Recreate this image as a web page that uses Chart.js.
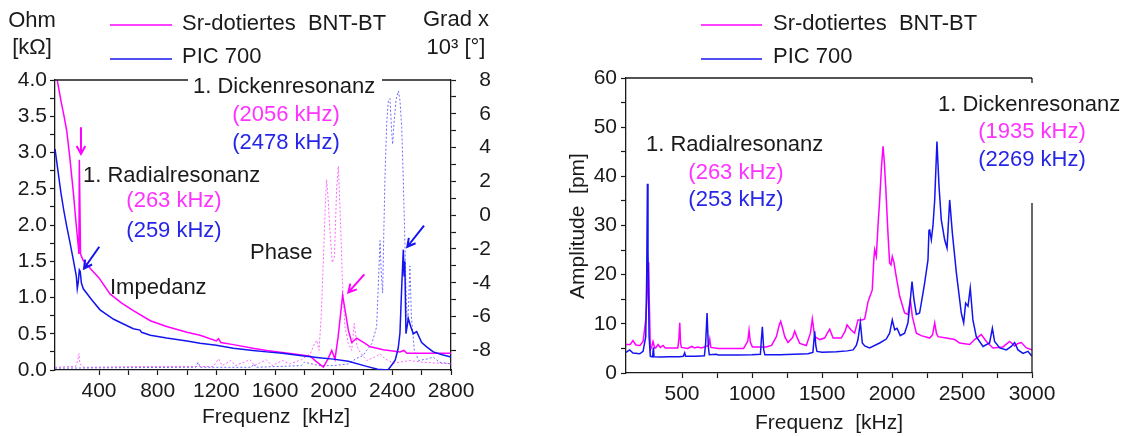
<!DOCTYPE html>
<html>
<head>
<meta charset="utf-8">
<script src="https://cdn.jsdelivr.net/npm/chart.js@4.4.1/dist/chart.umd.min.js"></script>
<style>
  body { margin: 0; background: #fff; }
  canvas { position: absolute; top: 0; }
  #impChart { left: 0; }
  #ampChart { left: 560px; }
</style>
</head>
<body>
<canvas id="impChart" width="560" height="436"></canvas>
<canvas id="ampChart" width="575" height="436"></canvas>
<script>
// ---------- left panel: impedance (kOhm) and phase (10^3 deg) ----------
const impFreqBnt = [100, 115, 140, 160, 180, 200, 225, 245, 259, 263, 266, 270, 274, 290, 320, 350, 400, 475, 550, 634, 750, 861, 1000, 1089, 1200, 1215, 1230, 1316, 1450, 1543, 1650, 1770, 1840, 1880, 1930, 1960, 1987, 2009, 2030, 2061, 2080, 2100, 2123, 2157, 2203, 2250, 2339, 2452, 2478, 2500, 2600, 2800];
const impBnt     = [4.3, 4.0, 3.72, 3.52, 3.3, 2.95, 2.45, 2.0, 1.7, 1.6, 2.9, 2.9, 1.6, 1.52, 1.45, 1.38, 1.27, 1.05, 0.93, 0.82, 0.68, 0.6, 0.52, 0.48, 0.4, 0.43, 0.38, 0.35, 0.3, 0.27, 0.24, 0.21, 0.19, 0.12, 0.04, 0.15, 0.27, 0.15, 0.45, 1.03, 0.8, 0.55, 0.38, 0.44, 0.38, 0.32, 0.28, 0.25, 0.27, 0.23, 0.23, 0.23];

const impFreqPic = [100, 120, 140, 160, 180, 200, 225, 245, 252, 258, 266, 272, 280, 293, 350, 407, 500, 634, 680, 690, 750, 861, 1000, 1089, 1200, 1316, 1450, 1543, 1650, 1770, 1900, 1997, 2100, 2225, 2300, 2370, 2400, 2420, 2440, 2452, 2465, 2475, 2480, 2485, 2493, 2509, 2525, 2543, 2566, 2600, 2634, 2679, 2740, 2800];
const impPic     = [3.05, 2.75, 2.45, 2.2, 1.98, 1.78, 1.52, 1.3, 1.12, 1.2, 1.38, 1.36, 1.2, 1.12, 0.97, 0.83, 0.7, 0.57, 0.55, 0.52, 0.48, 0.44, 0.4, 0.37, 0.34, 0.3, 0.27, 0.25, 0.23, 0.2, 0.17, 0.15, 0.12, 0.05, 0.01, 0.0, 0.08, 0.14, 0.3, 0.51, 1.2, 1.66, 1.3, 1.5, 0.5, 0.71, 0.6, 0.5, 0.53, 0.38, 0.32, 0.25, 0.21, 0.18];

const phaseFreqBnt = [100, 240, 255, 263, 270, 300, 700, 1000, 1180, 1215, 1240, 1300, 1330, 1430, 1460, 1540, 1580, 1650, 1700, 1780, 1840, 1870, 1885, 1900, 1915, 1930, 1945, 1952, 1962, 1975, 1990, 2005, 2020, 2032, 2045, 2060, 2077, 2100, 2123, 2140, 2160, 2180, 2225, 2280, 2316, 2350, 2407, 2520, 2600, 2800];
const phaseBnt     = [-9.0, -8.95, -8.6, -8.2, -8.8, -9.0, -8.95, -8.95, -8.95, -8.5, -8.9, -8.6, -8.9, -8.55, -8.9, -8.55, -8.9, -8.6, -8.8, -8.55, -8.2, -7.6, -7.4, -8.0, -6.0, -2.6, 1.0, 2.1, 1.0, -1.0, -2.8, -2.5, 1.5, 2.9, 0.0, -4.0, -6.6, -7.6, -8.0, -6.4, -7.8, -8.1, -8.6, -8.4, -8.2, -8.5, -8.75, -8.6, -8.7, -8.8];

const phaseFreqPic = [100, 1000, 1060, 1075, 1090, 1440, 1455, 1470, 1780, 1800, 1900, 2000, 2100, 2150, 2200, 2225, 2260, 2293, 2305, 2316, 2325, 2334, 2342, 2350, 2362, 2373, 2384, 2395, 2402, 2412, 2425, 2441, 2452, 2464, 2475, 2486, 2495, 2503, 2512, 2520, 2530, 2550, 2580, 2640, 2679, 2720, 2800];
const phasePic     = [-9.05, -9.0, -9.0, -8.7, -9.0, -9.0, -8.8, -9.0, -8.9, -8.7, -8.9, -8.9, -8.8, -8.5, -8.3, -8.0, -7.6, -6.6, -4.0, -1.5, -3.5, -4.6, -1.0, 2.3, 5.5, 6.8, 6.9, 5.0, 4.2, 5.5, 6.8, 7.35, 6.8, 5.2, 2.0, -1.7, -5.0, -6.6, -5.0, -3.0, -6.0, -8.0, -8.6, -8.5, -8.4, -8.7, -8.8];

// ---------- right panel: amplitude (pm) ----------
const ampFreqBnt = [100, 130, 150, 170, 200, 222, 241, 255, 262, 266, 274, 285, 293, 305, 312, 329, 345, 365, 380, 420, 470, 478, 484, 490, 496, 540, 570, 590, 610, 640, 690, 698, 706, 760, 850, 940, 970, 979, 988, 1003, 1060, 1100, 1140, 1174, 1195, 1205, 1218, 1234, 1257, 1290, 1305, 1320, 1341, 1388, 1417, 1431, 1448, 1484, 1519, 1540, 1555, 1579, 1638, 1665, 1679, 1695, 1710, 1733, 1757, 1785, 1805, 1829, 1859, 1870, 1876, 1888, 1900, 1912, 1925, 1936, 1945, 1955, 1971, 1983, 1993, 2002, 2014, 2026, 2055, 2090, 2114, 2131, 2145, 2174, 2209, 2269, 2290, 2305, 2318, 2329, 2388, 2448, 2483, 2555, 2590, 2638, 2674, 2721, 2793, 2840, 2858, 2876, 2900, 2924, 2960, 3000];
const ampBnt     = [5.8, 5.8, 6.6, 5.7, 5.6, 6.4, 10.8, 18, 22.5, 15, 4.7, 5.5, 6.4, 5.1, 5.1, 5.8, 5.2, 5.6, 5.1, 5.1, 5.1, 7, 10.2, 6, 5.2, 5.0, 5.4, 5.1, 5.3, 5.1, 5.6, 6.9, 5.2, 5.0, 5.0, 5.0, 6.5, 8.7, 6.3, 5.3, 5.3, 5.3, 5.6, 7.4, 9.8, 10.5, 9.2, 7.4, 6.2, 7.2, 8.5, 7.4, 6.0, 5.6, 8.1, 11.0, 7.4, 6.8, 7.1, 8.2, 8.9, 7.1, 7.1, 8.5, 9.8, 9.2, 8.7, 8.1, 10.8, 10.8, 11.0, 14.5, 16.9, 23, 25.1, 23.7, 30, 35.2, 42, 46.1, 43, 37.9, 28.5, 22.4, 22, 23.7, 22.5, 20.3, 15.6, 12.2, 11.9, 14.9, 11.5, 8.1, 7.6, 7.1, 7.8, 10.2, 8, 7.4, 7.1, 6.8, 6.1, 5.8, 6.8, 7.8, 6.4, 5.1, 5.3, 6.4, 6.0, 5.5, 6.0, 6.2, 5.1, 4.7];

const ampFreqPic = [100, 126, 150, 198, 222, 241, 248, 253, 257, 265, 274, 290, 296, 300, 350, 400, 480, 510, 519, 526, 600, 660, 669, 679, 688, 695, 745, 760, 900, 1000, 1060, 1067, 1074, 1084, 1092, 1200, 1300, 1400, 1435, 1442, 1448, 1456, 1464, 1500, 1603, 1680, 1722, 1745, 1757, 1774, 1788, 1805, 1840, 1912, 1959, 1983, 2002, 2019, 2036, 2059, 2090, 2114, 2131, 2143, 2157, 2174, 2197, 2221, 2233, 2257, 2264, 2269, 2281, 2293, 2305, 2321, 2336, 2352, 2376, 2393, 2412, 2431, 2460, 2495, 2512, 2526, 2543, 2559, 2578, 2602, 2650, 2697, 2717, 2733, 2769, 2817, 2852, 2876, 2900, 2936, 2971, 3000];
const ampPic     = [4.2, 4.7, 4.05, 3.9, 4.4, 7.4, 20, 38.5, 25, 7.4, 3.4, 3.3, 5.2, 3.3, 3.25, 3.3, 3.3, 3.4, 4.1, 3.4, 3.4, 3.5, 6.1, 12.2, 5.4, 3.7, 3.8, 3.65, 3.65, 3.7, 3.8, 6.8, 9.4, 4.7, 3.7, 3.7, 3.8, 3.9, 4.2, 6.5, 8.5, 5.5, 4.4, 4.2, 4.3, 4.5, 4.7, 5.6, 6.8, 10.3, 6.1, 5.5, 5.1, 6.1, 6.9, 8.1, 10.8, 8.8, 9.1, 7.6, 8.1, 10.2, 14.9, 18.6, 14.9, 11.9, 12.2, 16.2, 18.3, 23.0, 29, 29.1, 27.1, 30.1, 35.2, 47.1, 37.9, 31.2, 27.1, 25.4, 35.2, 28.5, 20.3, 12.2, 10.2, 14.2, 13.6, 17.3, 10.8, 7.4, 5.4, 6.1, 9.1, 6.4, 5.1, 4.7, 5.4, 6.2, 4.7, 4.0, 4.4, 3.4];

const FONT = '"Liberation Sans", Arial, sans-serif';
const INK = '#1a1a1a';
const MAGENTA = '#ff00ff';
const BLUE = '#1414f0';
const MAGENTA_TXT = '#ff33ff';
const BLUE_TXT = '#2626e6';

const pts = (xs, ys) => xs.map((x, i) => ({ x, y: ys[i] }));
const isMultiple = (v, step) => Math.abs(v / step - Math.round(v / step)) < 1e-6;

function axisStyle(extra) {
  return Object.assign({
    border: { display: true, color: INK, width: 1.3 },
    grid: { drawOnChartArea: false, drawTicks: true, tickLength: 5, color: INK, tickWidth: 1.2 },
  }, extra);
}

function tickFont() {
  return { family: FONT, size: 21 };
}

function text(ctx, str, x, y, color, align, size, rotate) {
  ctx.save();
  ctx.font = `${size || 22}px ${FONT}`;
  ctx.fillStyle = color || INK;
  ctx.textAlign = align || 'left';
  ctx.textBaseline = 'middle';
  if (rotate) {
    ctx.translate(x, y);
    ctx.rotate(rotate);
    ctx.fillText(str, 0, 0);
  } else {
    ctx.fillText(str, x, y);
  }
  ctx.restore();
}

function line(ctx, x1, y1, x2, y2, color, w) {
  ctx.save();
  ctx.strokeStyle = color;
  ctx.lineWidth = w || 1.3;
  ctx.beginPath();
  ctx.moveTo(x1, y1);
  ctx.lineTo(x2, y2);
  ctx.stroke();
  ctx.restore();
}

// arrow given in data units, head at "to"
function arrow(chart, yId, from, to, color) {
  const ctx = chart.ctx;
  const xs = chart.scales.x, ys = chart.scales[yId];
  const x1 = xs.getPixelForValue(from[0]), y1 = ys.getPixelForValue(from[1]);
  const x2 = xs.getPixelForValue(to[0]), y2 = ys.getPixelForValue(to[1]);
  const a = Math.atan2(y2 - y1, x2 - x1);
  const h = 9;
  ctx.save();
  ctx.strokeStyle = color;
  ctx.lineWidth = 2;
  ctx.beginPath();
  ctx.moveTo(x1, y1);
  ctx.lineTo(x2, y2);
  ctx.moveTo(x2 - h * Math.cos(a - 0.5), y2 - h * Math.sin(a - 0.5));
  ctx.lineTo(x2, y2);
  ctx.lineTo(x2 - h * Math.cos(a + 0.5), y2 - h * Math.sin(a + 0.5));
  ctx.stroke();
  ctx.restore();
}

const impDecor = {
  id: 'impDecor',
  afterDraw(chart) {
    const ctx = chart.ctx;
    const { left, right, top } = chart.chartArea;
    line(ctx, left, top, right, top, INK, 1.3);

    text(ctx, 'Ohm', 32, 21, INK, 'center');
    text(ctx, '[kΩ]', 32, 48, INK, 'center');
    text(ctx, 'Grad x', 456, 20, INK, 'center');
    text(ctx, '10³ [°]', 456, 48, INK, 'center');

    line(ctx, 110, 25, 172, 25, MAGENTA, 1.6);
    text(ctx, 'Sr-dotiertes  BNT-BT', 182, 24, INK);
    line(ctx, 110, 59, 172, 59, BLUE, 1.6);
    text(ctx, 'PIC 700', 182, 57, INK);

    ctx.save();
    ctx.fillStyle = '#fff';
    ctx.fillRect(188, 68, 194, 30);
    ctx.restore();
    text(ctx, '1. Dickenresonanz', 193, 87, INK);
    text(ctx, '(2056 kHz)', 286, 115, MAGENTA_TXT, 'center');
    text(ctx, '(2478 kHz)', 286, 143, BLUE_TXT, 'center');
    text(ctx, '1. Radialresonanz', 83, 176, INK);
    text(ctx, '(263 kHz)', 174, 201, MAGENTA_TXT, 'center');
    text(ctx, '(259 kHz)', 174, 231, BLUE_TXT, 'center');
    text(ctx, 'Phase', 250, 253, INK);
    text(ctx, 'Impedanz', 110, 288, INK);
    text(ctx, 'Frequenz  [kHz]', 276, 417, INK, 'center', 21);

    arrow(chart, 'y', [277, 3.35], [277, 2.98], MAGENTA);
    arrow(chart, 'y', [402, 1.70], [298, 1.40], BLUE);
    arrow(chart, 'y', [2209, 1.32], [2100, 1.07], MAGENTA);
    arrow(chart, 'y', [2616, 1.99], [2502, 1.70], BLUE);
  }
};

const ampDecor = {
  id: 'ampDecor',
  afterDraw(chart) {
    const ctx = chart.ctx;
    const { left, right, top, bottom } = chart.chartArea;
    line(ctx, left, top, right, top, INK, 1.3);
    line(ctx, right, top, right, bottom, INK, 1.3);

    // canvas sits at x = 560 on the page
    line(ctx, 141, 25, 202, 25, MAGENTA, 1.6);
    text(ctx, 'Sr-dotiertes  BNT-BT', 213, 24, INK);
    line(ctx, 141, 59, 202, 59, BLUE, 1.6);
    text(ctx, 'PIC 700', 213, 57, INK);

    text(ctx, '1. Radialresonanz', 86, 145, INK);
    text(ctx, '(263 kHz)', 176, 173, MAGENTA_TXT, 'center');
    text(ctx, '(253 kHz)', 176, 200, BLUE_TXT, 'center');

    ctx.save();
    ctx.fillStyle = '#fff';
    ctx.fillRect(465, 83, 110, 120);
    ctx.restore();
    text(ctx, '1. Dickenresonanz', 378, 105, INK);
    text(ctx, '(1935 kHz)', 472, 132, MAGENTA_TXT, 'center');
    text(ctx, '(2269 kHz)', 472, 160, BLUE_TXT, 'center');

    text(ctx, 'Amplitude  [pm]', 18, 226, INK, 'center', 21, -Math.PI / 2);
    text(ctx, 'Frequenz  [kHz]', 269, 423, INK, 'center', 21);
  }
};

new Chart(document.getElementById('impChart'), {
  type: 'line',
  data: {
    datasets: [
      { label: 'PIC 700', data: pts(impFreqPic, impPic), yAxisID: 'y', borderColor: BLUE, borderWidth: 1.5 },
      { label: 'Sr-dotiertes BNT-BT', data: pts(impFreqBnt, impBnt), yAxisID: 'y', borderColor: MAGENTA, borderWidth: 1.5 },
      { label: 'Phase PIC 700', data: pts(phaseFreqPic, phasePic), yAxisID: 'y2', borderColor: '#6a6aff', borderWidth: 1, borderDash: [2, 2] },
      { label: 'Phase BNT-BT', data: pts(phaseFreqBnt, phaseBnt), yAxisID: 'y2', borderColor: '#ff66ff', borderWidth: 1, borderDash: [2, 2] },
    ],
  },
  options: {
    responsive: false,
    animation: false,
    elements: { point: { radius: 0 }, line: { tension: 0 } },
    layout: { padding: { top: 80, right: 69, left: 0, bottom: 0 } },
    plugins: { legend: { display: false }, tooltip: { enabled: false } },
    scales: {
      x: axisStyle({
        type: 'linear', min: 100, max: 2800,
        afterFit: (s) => { s.height = 66; },
        afterBuildTicks: (s) => { s.ticks = s.ticks.filter((t) => isMultiple(t.value, 200)); },
        ticks: { stepSize: 200, autoSkip: false, maxRotation: 0, padding: 4, color: INK, font: tickFont(),
          callback: (v) => (isMultiple(v, 400) ? String(v) : '') },
      }),
      y: axisStyle({
        type: 'linear', position: 'left', min: 0, max: 4,
        afterFit: (s) => { s.width = 55; },
        ticks: { stepSize: 0.25, autoSkip: false, padding: 3, color: INK, font: tickFont(),
          callback: (v) => (isMultiple(v, 0.5) ? v.toFixed(1) : '') },
      }),
      y2: axisStyle({
        type: 'linear', position: 'right', min: -9.16, max: 8,
        afterFit: (s) => { s.width = 40; },
        afterBuildTicks: (s) => { s.ticks = s.ticks.filter((t) => isMultiple(t.value, 1)); },
        ticks: { stepSize: 1, autoSkip: false, padding: -6, crossAlign: 'far', color: INK, font: tickFont(),
          callback: (v) => (isMultiple(v, 2) ? String(Math.round(v)) : '') },
      }),
    },
  },
  plugins: [impDecor],
});

new Chart(document.getElementById('ampChart'), {
  type: 'line',
  data: {
    datasets: [
      { label: 'PIC 700', data: pts(ampFreqPic, ampPic), borderColor: BLUE, borderWidth: 1.5 },
      { label: 'Sr-dotiertes BNT-BT', data: pts(ampFreqBnt, ampBnt), borderColor: MAGENTA, borderWidth: 1.5 },
    ],
  },
  options: {
    responsive: false,
    animation: false,
    elements: { point: { radius: 0 }, line: { tension: 0 } },
    layout: { padding: { top: 78, right: 103, left: 0, bottom: 0 } },
    plugins: { legend: { display: false }, tooltip: { enabled: false } },
    scales: {
      x: axisStyle({
        type: 'linear', min: 100, max: 3000,
        afterFit: (s) => { s.height = 63; },
        afterBuildTicks: (s) => { s.ticks = s.ticks.filter((t) => isMultiple(t.value, 250)); },
        ticks: { stepSize: 250, autoSkip: false, maxRotation: 0, padding: 4, color: INK, font: tickFont(),
          callback: (v) => (isMultiple(v, 500) ? String(v) : '') },
      }),
      y: axisStyle({
        type: 'linear', min: 0, max: 60,
        afterFit: (s) => { s.width = 66; },
        ticks: { stepSize: 5, autoSkip: false, padding: 4, color: INK, font: tickFont(),
          callback: (v) => (isMultiple(v, 10) ? String(v) : '') },
      }),
    },
  },
  plugins: [ampDecor],
});
</script>
</body>
</html>
